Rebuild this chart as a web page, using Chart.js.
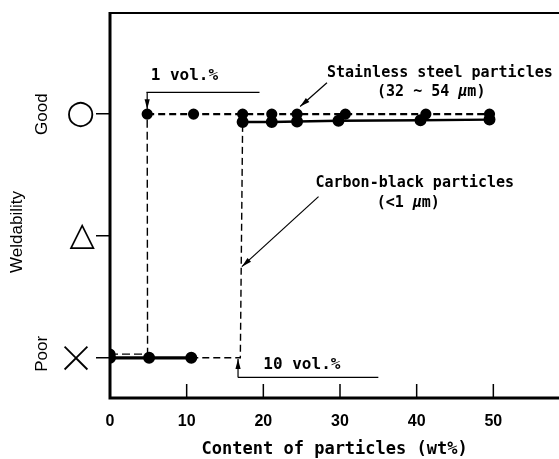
<!DOCTYPE html>
<html><head><meta charset="utf-8">
<script src="https://cdn.jsdelivr.net/npm/chart.js@4/dist/chart.umd.min.js"></script>
<style>
html,body{margin:0;padding:0;background:#fff;overflow:hidden;width:559px;height:459px}
#wrap{position:absolute;left:0;top:0;width:600px;height:459px}
</style>
</head><body><div id="wrap"><canvas id="c" width="600" height="459"></canvas></div>
<script>
// ---- data ----
const ratingLabels = ['×', '△', '○'];          // Poor (0), Fair (1), Good (2)
const ratingWords = ['Poor', '', 'Good'];
const xTicks = [0, 10, 20, 30, 40, 50];
// Stainless steel particles (32~54 µm) – dashed
const steelX = [0, 4.9, 4.85, 10.9, 17.3, 21.1, 24.4, 30.7, 41.2, 49.5];
const steelY = [0.03, 0.03, 2.0, 2.0, 2.0, 2.0, 2.0, 2.0, 2.0, 2.0];
const steelMarker = [1, 0, 1, 1, 1, 1, 1, 1, 1, 1];
// Carbon-black particles (<1 µm) – solid
const carbonX = [0, 5.1, 10.6, 17.0, 17.3, 21.1, 24.4, 29.8, 40.5, 49.5];
const carbonY = [0, 0, 0, 0, 1.935, 1.935, 1.94, 1.945, 1.95, 1.955];
const carbonMarker = [1, 1, 1, 0, 1, 1, 1, 1, 1, 1];

const pts = (xs, ys) => xs.map((v, i) => ({x: v, y: ys[i]}));
const MONO = '"DejaVu Sans Mono", monospace';
const SANS = '"Liberation Sans", Arial, sans-serif';

function arrow(ctx, x1, y1, x2, y2, lw) {
  ctx.lineWidth = lw || 1.2;
  ctx.beginPath(); ctx.moveTo(x1, y1); ctx.lineTo(x2, y2); ctx.stroke();
  const ang = Math.atan2(y2 - y1, x2 - x1), L = 10, W = 2.6;
  ctx.beginPath();
  ctx.moveTo(x2, y2);
  ctx.lineTo(x2 - L * Math.cos(ang) + W * Math.sin(ang), y2 - L * Math.sin(ang) - W * Math.cos(ang));
  ctx.lineTo(x2 - L * Math.cos(ang) - W * Math.sin(ang), y2 - L * Math.sin(ang) + W * Math.cos(ang));
  ctx.closePath(); ctx.fill();
}
function runs(ctx, parts, cx, cy) {
  let w = 0;
  parts.forEach(p => { ctx.font = p[1]; w += ctx.measureText(p[0]).width; });
  let x = cx - w / 2;
  ctx.textAlign = 'left'; ctx.textBaseline = 'middle';
  parts.forEach(p => { ctx.font = p[1]; ctx.fillText(p[0], x, cy); x += ctx.measureText(p[0]).width; });
}

const annot = {
  id: 'annot',
  afterDraw(chart) {
    const {ctx, chartArea: a, scales: {x, y}} = chart;
    const px = v => x.getPixelForValue(v), py = v => y.getPixelForValue(v);
    ctx.save();
    ctx.strokeStyle = '#000'; ctx.fillStyle = '#000';
    // frame
    ctx.lineWidth = 2;
    ctx.beginPath(); ctx.moveTo(a.left, a.top); ctx.lineTo(a.right, a.top); ctx.lineTo(a.right, a.bottom); ctx.stroke();
    ctx.lineWidth = 3;
    ctx.beginPath(); ctx.moveTo(a.left, a.top - 1); ctx.lineTo(a.left, a.bottom); ctx.lineTo(a.right, a.bottom); ctx.stroke();
    // inward x ticks
    ctx.lineWidth = 1.5;
    xTicks.forEach(v => { if (v > 0) { ctx.beginPath(); ctx.moveTo(px(v), a.bottom); ctx.lineTo(px(v), a.bottom - 14); ctx.stroke(); } });
    // left labels
    ctx.textAlign = 'center'; ctx.textBaseline = 'middle';
    ctx.font = '17px ' + SANS;
    [[ratingWords[2], py(2), a.left - 68], [ratingWords[0], py(0) - 4, a.left - 68], ['Weldability', py(1) - 4, a.left - 93]].forEach(t => {
      ctx.save(); ctx.translate(t[2], t[1]); ctx.rotate(-Math.PI / 2); ctx.fillText(t[0], 0, 0); ctx.restore();
    });
    // annotation: 1 vol.%
    const f16 = 'bold 16px ' + MONO, f15 = 'bold 15px ' + MONO, it = 'italic bold 15px ' + MONO;
    ctx.font = f16; ctx.textAlign = 'left'; ctx.textBaseline = 'middle';
    ctx.fillText('1 vol.%', px(5.3), py(2.317));
    ctx.lineWidth = 1.2;
    ctx.beginPath(); ctx.moveTo(px(4.75), py(2.178)); ctx.lineTo(px(19.5), py(2.178)); ctx.stroke();
    arrow(ctx, px(4.85), py(2.178), px(4.85), py(2.04), 1.2);
    // 10 vol.%
    ctx.font = f16; ctx.textAlign = 'left';
    ctx.fillText('10 vol.%', px(20.0), py(-0.06));
    ctx.beginPath(); ctx.moveTo(px(16.7), py(-0.161)); ctx.lineTo(px(35.0), py(-0.161)); ctx.stroke();
    arrow(ctx, px(16.7), py(-0.161), px(16.7), py(-0.01), 1.2);
    // Stainless steel
    ctx.font = f15; ctx.textAlign = 'left';
    ctx.fillText('Stainless steel particles', px(28.3), py(2.34));
    runs(ctx, [['(32 ~ 54 ', f15], ['μ', it], ['m)', f15]], px(41.9), py(2.18));
    arrow(ctx, px(28.3), py(2.257), px(24.8), py(2.062), 1.2);
    // Carbon black
    ctx.font = f15; ctx.textAlign = 'left';
    ctx.fillText('Carbon-black particles', px(26.8), py(1.433));
    runs(ctx, [['(<1 ', f15], ['μ', it], ['m)', f15]], px(38.9), py(1.269));
    arrow(ctx, px(27.2), py(1.323), px(17.2), py(0.748), 1.2);
    // x axis title
    ctx.font = 'bold 17px ' + MONO; ctx.textAlign = 'center';
    ctx.fillText('Content of particles (wt%)', px(29.3), a.bottom + 52);
    ctx.restore();
  }
};

new Chart(document.getElementById('c'), {
  type: 'line',
  data: {
    datasets: [
      {
        label: 'Stainless steel particles (32 ~ 54 μm)',
        data: pts(steelX, steelY),
        borderColor: '#000', backgroundColor: '#000',
        pointRadius: steelMarker.map(m => m ? 4.5 : 0),
        borderWidth: 2.2, borderDash: [7, 4],
        segment: {
          borderWidth: c => c.p0DataIndex < 2 ? 1.4 : 2.2,
          borderDash: c => c.p0DataIndex < 2 ? [8, 4] : [7, 4]
        }
      },
      {
        label: 'Carbon-black particles (<1 μm)',
        data: pts(carbonX, carbonY),
        borderColor: '#000', backgroundColor: '#000',
        pointRadius: carbonMarker.map(m => m ? 4.5 : 0),
        borderWidth: 3,
        segment: {
          borderWidth: c => (c.p0DataIndex === 2 || c.p0DataIndex === 3) ? 1.4 : (c.p0DataIndex < 2 ? 3.2 : 2.4),
          borderDash: c => (c.p0DataIndex === 2 || c.p0DataIndex === 3) ? [7, 4] : []
        }
      }
    ]
  },
  options: {
    responsive: false, animation: false,
    layout: {padding: {top: 13, right: 30, left: 0, bottom: 0}},
    plugins: {legend: {display: false}, tooltip: {enabled: false}},
    scales: {
      x: {
        type: 'linear', min: 0, max: 60,
        afterBuildTicks: s => { s.ticks = xTicks.map(v => ({value: v})); },
        afterFit: s => { s.height = 459 - 13 - 385; s.paddingLeft = 0; s.paddingRight = 0; },
        grid: {display: false, drawTicks: false},
        border: {display: false},
        ticks: {color: '#000', padding: 14, font: {family: SANS, size: 16, weight: 'bold'}, maxRotation: 0}
      },
      y: {
        type: 'linear', min: -0.33, max: 2.83,
        afterBuildTicks: s => { s.ticks = ratingLabels.map((l, i) => ({value: i})); },
        afterFit: s => { s.width = 110; s.paddingTop = 0; s.paddingBottom = 0; },
        grid: {display: true, drawOnChartArea: false, drawTicks: true, tickLength: 14, color: '#000', lineWidth: 1.5},
        border: {display: false},
        ticks: {
          color: '#000', padding: 1,
          font: c => (c.tick && c.tick.value === 0)
            ? {family: '"Noto Sans CJK JP", "Noto Sans", sans-serif', size: 38, weight: 300}
            : {family: '"DejaVu Sans", sans-serif', size: 33, weight: 'normal'},
          callback: v => ratingLabels[v]
        }
      }
    }
  },
  plugins: [annot]
});
</script>
</body></html>
